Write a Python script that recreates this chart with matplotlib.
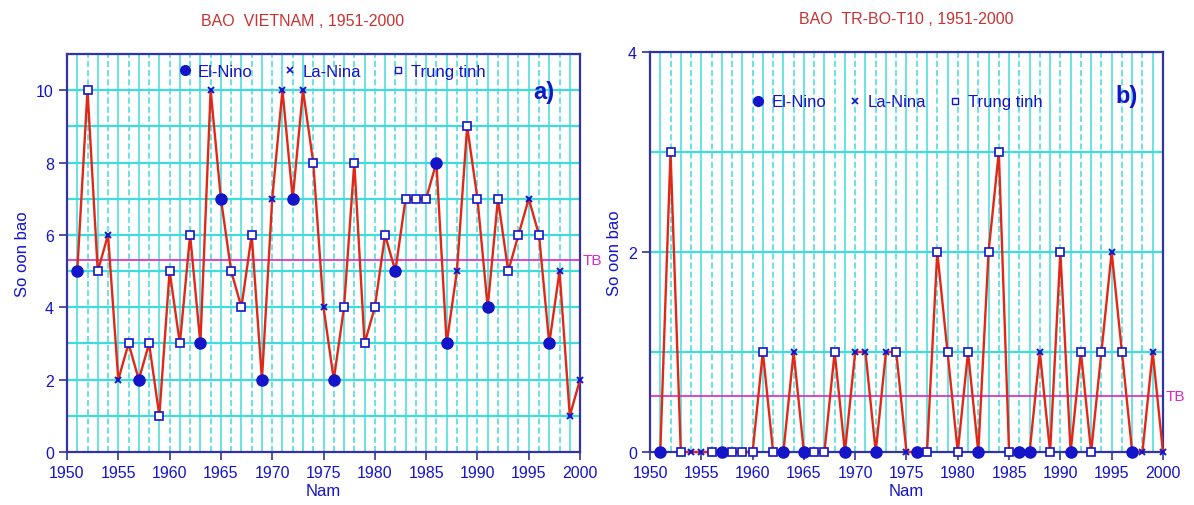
import matplotlib
matplotlib.use('Agg')
import matplotlib.pyplot as plt
from matplotlib.lines import Line2D
import numpy as np

plt.rcParams['font.family'] = ['Liberation Sans', 'DejaVu Sans']

years = list(range(1951, 2001))

# so con bao Viet Nam
vn_counts = [5, 10, 5, 6, 2, 3, 2, 3, 1, 5,
             3, 6, 3, 10, 7, 5, 4, 6, 2, 7,
             10, 7, 10, 8, 4, 2, 4, 8, 3, 4,
             6, 5, 7, 7, 7, 8, 3, 5, 9, 7,
             4, 7, 5, 6, 7, 6, 3, 5, 1, 2]

# so con bao Trung Bo thang 10
tb_counts = [0, 3, 0, 0, 0, 0, 0, 0, 0, 0,
             1, 0, 0, 1, 0, 0, 0, 1, 0, 1,
             1, 0, 1, 1, 0, 0, 0, 2, 1, 0,
             1, 0, 2, 3, 0, 0, 0, 1, 0, 2,
             0, 1, 0, 1, 2, 1, 0, 0, 1, 0]

# E = El-Nino, L = La-Nina, T = Trung tinh
phases = list("ETTLLTETTTTTELETTTELLELTLETTTTTETTTEELTTETTTLTELLL")

RED = '#e02818'
BLUE = '#1414c8'
NAVY = '#3434a0'
CYAN = '#40dcdc'
MAG = '#d828c8'
TITLE_RED = '#c83232'

fig = plt.figure(figsize=(11.94, 5.06), dpi=100)
fig.patch.set_facecolor('white')

ax1 = fig.add_axes([0.0561, 0.1047, 0.4297, 0.7866])
ax2 = fig.add_axes([0.5444, 0.1047, 0.4296, 0.7906])


def draw_panel(ax, counts, ymax, yticks, title, title_x, tag, leg_xy, colsp, tag_xy):
    ax.set_xlim(1950, 2000)
    ax.set_ylim(0, ymax)

    # grid: a line for every year, every integer level
    for yr in range(1951, 2000):
        ls = '-' if yr % 2 else (0, (4, 2))
        ax.axvline(yr, color=CYAN, lw=1.1, ls=ls, zorder=1)
    for lv in range(1, int(ymax) + 1):
        ax.axhline(lv, color=CYAN, lw=1.6, zorder=1)

    mean = np.mean(counts)
    ax.axhline(mean, color=MAG, lw=1.2, zorder=2)
    ax.text(2000.3, mean, 'TB', color=MAG, fontsize=11, va='center', ha='left',
            clip_on=False)

    ax.plot(years, counts, color=RED, lw=1.7, zorder=3, clip_on=False)

    yr = np.array(years)
    c = np.array(counts)
    ph = np.array(phases)
    m = ph == 'E'
    ax.plot(yr[m], c[m], 'o', color=BLUE, ms=8, zorder=4, clip_on=False)
    m = ph == 'L'
    ax.plot(yr[m], c[m], 'x', color=BLUE, ms=5, mew=1.4, zorder=4, clip_on=False)
    m = ph == 'T'
    ax.plot(yr[m], c[m], 's', mfc='white', mec=BLUE, ms=6, mew=1.2, zorder=4,
            clip_on=False)

    handles = [
        Line2D([], [], ls='', marker='o', color=BLUE, ms=7),
        Line2D([], [], ls='', marker='x', color=BLUE, ms=5, mew=1.2),
        Line2D([], [], ls='', marker='s', mfc='white', mec=BLUE, ms=5),
    ]
    leg = ax.legend(handles, ['El-Nino', 'La-Nina', 'Trung tinh'], ncol=3,
                    frameon=False, loc='center', bbox_to_anchor=leg_xy,
                    fontsize=12, handletextpad=0.3, columnspacing=colsp,
                    handlelength=1.0, labelcolor=BLUE)
    leg.set_zorder(5)

    ax.text(tag_xy[0], tag_xy[1], tag, transform=ax.transAxes, color=BLUE,
            fontsize=17, fontweight='bold', ha='center', va='center', zorder=6)

    ax.set_title(title, color=TITLE_RED, fontsize=11.5, pad=21, x=title_x)
    ax.set_xticks(range(1950, 2001, 5))
    ax.set_yticks(yticks)
    ax.tick_params(colors=NAVY, labelcolor=BLUE, labelsize=11.5, length=6,
                   width=1.2, direction='out')
    for s in ax.spines.values():
        s.set_color(NAVY)
        s.set_linewidth(1.6)
    ax.set_xlabel('Nam', color=BLUE, fontsize=12, labelpad=2)
    ax.set_ylabel('So oon bao', color=BLUE, fontsize=12, labelpad=4)


draw_panel(ax1, vn_counts, 11, range(0, 11, 2),
           'BAO  VIETNAM , 1951-2000', 0.46, 'a)', (0.515, 0.957), 1.7, (0.93, 0.905))
draw_panel(ax2, tb_counts, 4, [0, 2, 4],
           'BAO  TR-BO-T10 , 1951-2000', 0.5, 'b)', (0.48, 0.875), 1.2, (0.93, 0.89))

fig.savefig('out.png', dpi=100, facecolor=fig.get_facecolor())
